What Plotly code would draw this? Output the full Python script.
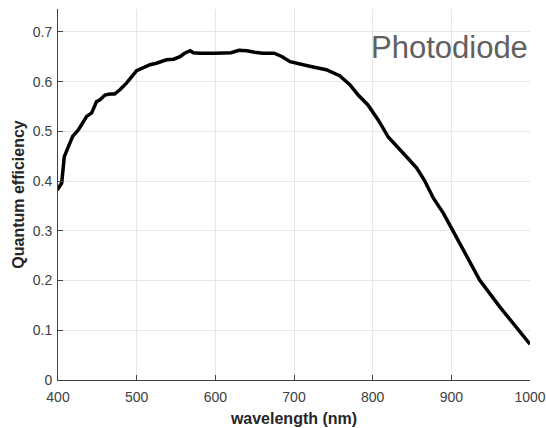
import plotly.graph_objects as go

wavelength = [399, 404.7, 408, 413, 418.6, 425.8, 432, 436.4, 442.8, 449, 453, 459.7, 466, 472, 479, 487,
              500, 508, 517, 525, 538, 547, 555, 561, 568, 572, 580, 600, 620, 630, 640, 650, 660, 675, 685,
              695, 707.5, 720, 741, 758, 771, 781.6, 794, 807, 820, 830, 843, 856, 866, 877, 890, 900,
              915, 936, 961.6, 983, 1000]
qe = [0.382, 0.396, 0.449, 0.469, 0.490, 0.503, 0.520, 0.530, 0.537, 0.560, 0.563, 0.573, 0.575, 0.575,
      0.584, 0.597, 0.622, 0.627, 0.634, 0.637, 0.644, 0.645, 0.650, 0.657, 0.662, 0.658, 0.657, 0.657,
      0.658, 0.663, 0.662, 0.659, 0.657, 0.657, 0.650, 0.640, 0.635, 0.631, 0.624, 0.612, 0.594, 0.573,
      0.553, 0.523, 0.488, 0.472, 0.449, 0.426, 0.401, 0.366, 0.335, 0.306, 0.262, 0.201, 0.147, 0.104, 0.072]

x_ticks = [400, 500, 600, 700, 800, 900, 1000]
y_ticks = [0, 0.1, 0.2, 0.3, 0.4, 0.5, 0.6, 0.7]
y_tick_labels = ["0", "0.1", "0.2", "0.3", "0.4", "0.5", "0.6", "0.7"]

fig = go.Figure()
fig.add_trace(go.Scatter(x=wavelength, y=qe, mode="lines",
                         line=dict(color="black", width=3.5), showlegend=False))

fig.update_layout(
    width=546, height=428,
    margin=dict(l=58, r=16, t=9, b=48),
    paper_bgcolor="white", plot_bgcolor="white",
    font=dict(family="Liberation Sans, Arial, sans-serif", size=14, color="#404040"),
    xaxis=dict(range=[400, 1000], tickvals=x_ticks, showgrid=True, gridcolor="#e6e6e6", gridwidth=1,
               showline=True, linecolor="#404040", linewidth=1, ticks="inside", ticklen=5,
               tickcolor="#404040", zeroline=False, automargin=False, ticklabelstandoff=4,
               title=dict(text="<b>wavelength (nm)</b>", font=dict(size=16, color="#262626"), standoff=9)),
    yaxis=dict(range=[0, 0.746], tickvals=y_ticks, ticktext=y_tick_labels, showgrid=True,
               gridcolor="#e6e6e6", gridwidth=1, showline=True, linecolor="#404040", linewidth=1,
               ticks="inside", ticklen=5, tickcolor="#404040", zeroline=False, automargin=False,
               ticklabelstandoff=2,
               title=dict(text="<b>Quantum efficiency</b>", font=dict(size=16, color="#262626"), standoff=4)),
    annotations=[dict(text="Photodiode", xref="paper", yref="paper", x=1.0, y=0.896,
                      xanchor="right", yanchor="middle", showarrow=False,
                      font=dict(size=31, color="#606060"))],
)

fig.write_html("out.html")
